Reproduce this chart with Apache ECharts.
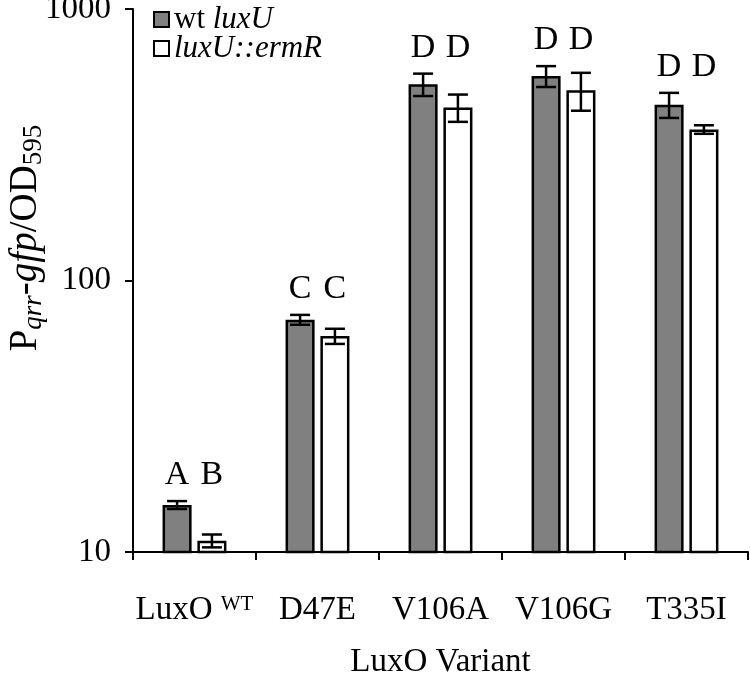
<!DOCTYPE html>
<html><head><meta charset="utf-8">
<script src="https://cdn.jsdelivr.net/npm/echarts@6/dist/echarts.min.js"></script>
<style>html,body{margin:0;padding:0;background:#fff}#c{width:750px;height:680px}</style>
</head><body><div id="c"></div>
<script>
var categories = ['LuxO WT', 'D47E', 'V106A', 'V106G', 'T335I'];
var wtValues = [14.9, 71.7, 528, 566, 444];
var wtErrors = [0.5, 3, 50, 50, 47];
var mutValues = [11.0, 62.4, 434, 502, 360];
var mutErrors = [0.6, 4, 50, 80, 13];
var wtLetters = ['A', 'C', 'D', 'D', 'D'];
var mutLetters = ['B', 'C', 'D', 'D', 'D'];
var yTicks = [10, 100, 1000];

var FONT = 'Liberation Serif';
var BAR_W = 0.236, BAR_GAP = 0.2;
var chart = echarts.init(document.getElementById('c'));

function errData(vals, errs, letters, otherVals, otherErrs) {
  return vals.map(function (v, i) {
    return [i, v, v - errs[i], v + errs[i], Math.max(v + errs[i], otherVals[i] + otherErrs[i]), letters[i]];
  });
}

function makeErrRender(side) {
  return function (params, api) {
    var i = api.value(0);
    var band = api.size([1, 0])[0];
    var w = band * BAR_W;
    var off = side * (w / 2 + w * BAR_GAP / 2);
    var base = api.coord([i, api.value(1)]);
    var x = base[0] + off;
    var lo = api.coord([i, api.value(2)])[1];
    var hi = api.coord([i, api.value(3)])[1];
    var top = api.coord([i, api.value(4)])[1];
    var cap = 10;
    var st = { stroke: '#000', lineWidth: 2.5 };
    return {
      type: 'group',
      children: [
        { type: 'line', shape: { x1: x, y1: lo, x2: x, y2: hi }, style: st },
        { type: 'line', shape: { x1: x - cap, y1: lo, x2: x + cap, y2: lo }, style: st },
        { type: 'line', shape: { x1: x - cap, y1: hi, x2: x + cap, y2: hi }, style: st },
        { type: 'text', x: x, y: top - 9, style: { text: api.value(5), fontFamily: FONT, fontSize: 34, fill: '#000', align: 'center', verticalAlign: 'bottom' } }
      ]
    };
  };
}

var option = {
  animation: false,
  backgroundColor: '#fff',
  grid: { left: 133, right: 2, top: 9, bottom: 128, outerBoundsMode: 'none', containLabel: false },
  legend: {
    orient: 'vertical', left: 148, top: -1, itemWidth: 15, itemHeight: 15, itemGap: -2, icon: 'rect',
    data: ['wt', 'mut'],
    formatter: function (n) { return n === 'wt' ? 'wt {i|luxU}' : '{i|luxU::ermR}'; },
    textStyle: { fontFamily: FONT, fontSize: 31, lineHeight: 29, color: '#000',
      rich: { i: { fontFamily: FONT, fontSize: 31, lineHeight: 29, fontStyle: 'italic', color: '#000' } } }
  },
  xAxis: {
    type: 'category', data: categories,
    axisLine: { lineStyle: { color: '#000', width: 2 } },
    axisTick: { show: true, length: 8, lineStyle: { color: '#000', width: 2 } },
    axisLabel: {
      interval: 0, margin: 42, color: '#000', fontFamily: FONT, fontSize: 33,
      formatter: function (v) { return v === 'LuxO WT' ? 'LuxO {sup|WT}' : v; },
      rich: { sup: { fontFamily: FONT, fontSize: 21, verticalAlign: 'top', lineHeight: 33, color: '#000' } }
    },
    name: 'LuxO Variant', nameLocation: 'middle', nameGap: 94,
    nameTextStyle: { fontFamily: FONT, fontSize: 33, color: '#000' }
  },
  yAxis: {
    type: 'log', logBase: 10, min: 10, max: 1000,
    splitLine: { show: false },
    axisLine: { show: true, lineStyle: { color: '#000', width: 2 } },
    axisTick: { show: true, length: 8, lineStyle: { color: '#000', width: 2 } },
    minorTick: { show: false },
    axisLabel: { margin: 22, color: '#000', fontFamily: FONT, fontSize: 33,
      formatter: function (v) { return yTicks.indexOf(Math.round(v)) >= 0 ? String(Math.round(v)) : ''; } }
  },
  graphic: [{
    type: 'text', x: 26, y: 238, rotation: Math.PI / 2,
    style: {
      text: '{n|P}{s|qrr}{n|-}{i|gfp}{n|/OD}{s2|595}',
      align: 'center', verticalAlign: 'middle',
      rich: {
        n: { fontFamily: FONT, fontSize: 39, fill: '#000', lineHeight: 42, verticalAlign: 'middle' },
        i: { fontFamily: FONT, fontSize: 39, fontStyle: 'italic', fill: '#000', lineHeight: 42, verticalAlign: 'middle' },
        s: { fontFamily: FONT, fontSize: 27, fontStyle: 'italic', fill: '#000', lineHeight: 26, verticalAlign: 'bottom' },
        s2: { fontFamily: FONT, fontSize: 27, fill: '#000', lineHeight: 26, verticalAlign: 'bottom' }
      }
    }
  }],
  series: [
    { name: 'wt', type: 'bar', data: wtValues, barWidth: (BAR_W * 100) + '%', barGap: (BAR_GAP * 100) + '%',
      itemStyle: { color: '#808080', borderColor: '#000', borderWidth: 2.5 } },
    { name: 'mut', type: 'bar', data: mutValues, barWidth: (BAR_W * 100) + '%', barGap: (BAR_GAP * 100) + '%',
      itemStyle: { color: '#fff', borderColor: '#000', borderWidth: 2.5 } },
    { type: 'custom', renderItem: makeErrRender(-1), data: errData(wtValues, wtErrors, wtLetters, mutValues, mutErrors), z: 5, encode: { x: 0, y: 1 } },
    { type: 'custom', renderItem: makeErrRender(1), data: errData(mutValues, mutErrors, mutLetters, wtValues, wtErrors), z: 5, encode: { x: 0, y: 1 } }
  ]
};
chart.setOption(option);
</script>
</body></html>
